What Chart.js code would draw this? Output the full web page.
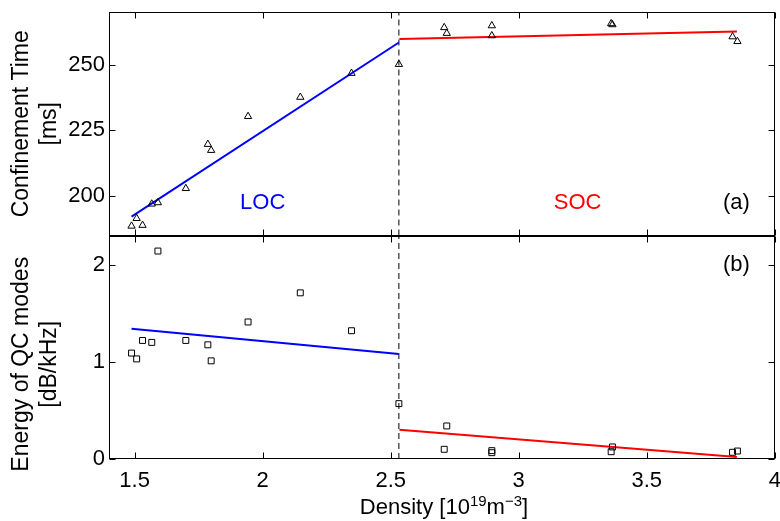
<!DOCTYPE html>
<html><head><meta charset="utf-8">
<script src="https://cdn.jsdelivr.net/npm/chart.js@4.4.0/dist/chart.umd.min.js"></script>
<style>html,body{margin:0;padding:0;background:#fff}</style>
</head><body>
<canvas id="c" width="780" height="521" style="width:780px;height:521px;display:block"></canvas>
<script>
// ---- data ----
const density = [1.488, 1.508, 1.531, 1.567, 1.591, 1.70, 1.786, 1.799, 1.943, 2.147, 2.347, 2.532, 2.709, 2.719, 2.895, 2.895, 3.361, 3.366, 3.835, 3.854];
const confinementTime = [188.6, 191.5, 188.9, 197.0, 197.5, 202.9, 219.7, 217.4, 230.3, 237.6, 246.7, 250.1, 264.1, 261.9, 264.8, 261.0, 265.6, 265.2, 260.6, 258.8];
const qcEnergy = [1.09, 1.03, 1.22, 1.20, 2.14, 1.22, 1.175, 1.01, 1.41, 1.71, 1.32, 0.57, 0.10, 0.34, 0.086, 0.065, 0.075, 0.124, 0.069, 0.082];
const locFitDensity = [1.488, 2.532];
const locFitTime = [192.2, 258.4];
const locFitEnergy = [1.34, 1.08];
const socFitDensity = [2.534, 3.852];
const socFitTime = [259.7, 262.6];
const socFitEnergy = [0.30, 0.02];
const transitionDensity = 2.532;
const xRange = [1.4, 4];
const timeRange = [185, 270];
const energyRange = [0, 2.3];
const xTicks = [1.5, 2, 2.5, 3, 3.5, 4];
const timeTicks = [200, 225, 250];
const energyTicks = [0, 1, 2];
const timeTitle = ['Confinement Time', '[ms]'];
const energyTitle = ['Energy of QC modes', '[dB/kHz]'];
const regionLabels = [
  {text: 'LOC', x: 2.0, y: 197.5, axis: 'yT', color: '#0000ff'},
  {text: 'SOC', x: 3.23, y: 197.5, axis: 'yT', color: '#ff0000'},
  {text: '(a)', x: 3.85, y: 197.5, axis: 'yT', color: '#000000'},
  {text: '(b)', x: 3.85, y: 2.0, axis: 'yE', color: '#000000'}
];

const FONT = 'Liberation Sans, Arial, Helvetica, sans-serif';
const FS = 22;
const TFS = 23;

const pts = (xs, ys) => xs.map((v, i) => ({x: v, y: ys[i]}));

const framePlugin = {
  id: 'frame',
  afterDraw(chart) {
    const {ctx, chartArea: ca, scales} = chart;
    const x = scales.x, yT = scales.yT, yE = scales.yE;
    const L = Math.round(ca.left) + 0.5, R = Math.round(ca.right) - 0.5;
    ctx.save();
    ctx.strokeStyle = '#000';
    ctx.lineWidth = 1;
    const tl = 6;
    [[yT, timeTicks], [yE, energyTicks]].forEach(([ys, tks]) => {
      const T = Math.round(ys.top) + 0.5, B = Math.round(ys.bottom) - 0.5;
      ctx.strokeRect(L, T, R - L, B - T);
      ctx.beginPath();
      xTicks.forEach(v => {
        const px = Math.round(x.getPixelForValue(v)) + 0.5;
        ctx.moveTo(px, T); ctx.lineTo(px, T + tl);
        ctx.moveTo(px, B); ctx.lineTo(px, B - tl);
      });
      tks.forEach(v => {
        const py = Math.round(ys.getPixelForValue(v)) + 0.5;
        ctx.moveTo(L, py); ctx.lineTo(L + tl, py);
        ctx.moveTo(R, py); ctx.lineTo(R - tl, py);
      });
      ctx.stroke();
    });
    // region labels
    ctx.font = FS + 'px ' + FONT;
    ctx.textAlign = 'center';
    ctx.textBaseline = 'middle';
    regionLabels.forEach(l => {
      ctx.fillStyle = l.color;
      ctx.fillText(l.text, x.getPixelForValue(l.x), scales[l.axis].getPixelForValue(l.y));
    });
    // rotated y-axis titles
    ctx.fillStyle = '#000';
    ctx.font = TFS + 'px ' + FONT;
    [[timeTitle, (yT.top + yT.bottom) / 2], [energyTitle, (yE.top + yE.bottom) / 2 + 17]].forEach(([lines, cy]) => {
      ctx.save();
      ctx.translate(22, cy);
      ctx.rotate(-Math.PI / 2);
      ctx.textAlign = 'center';
      ctx.textBaseline = 'middle';
      lines.forEach((t, i) => ctx.fillText(t, 0, i * 28));
      ctx.restore();
    });
    // x-axis title with superscripts
    const parts = [
      {t: 'Density [10', sup: false},
      {t: '19', sup: true},
      {t: 'm', sup: false},
      {t: '\u22123', sup: true},
      {t: ']', sup: false}
    ];
    const mainF = FS + 'px ' + FONT, supF = '15px ' + FONT;
    let total = 0;
    parts.forEach(p => { ctx.font = p.sup ? supF : mainF; p.w = ctx.measureText(p.t).width; total += p.w; });
    let cx = 444 - total / 2;
    const base = 514;
    ctx.textAlign = 'left';
    ctx.textBaseline = 'alphabetic';
    parts.forEach(p => {
      ctx.font = p.sup ? supF : mainF;
      ctx.fillText(p.t, cx, p.sup ? base - 8 : base);
      cx += p.w;
    });
    ctx.restore();
  }
};

const tickFont = {family: FONT, size: FS};
const fixY = s => { s.width = 109; s.paddingTop = 0; s.paddingBottom = 0; };

new Chart(document.getElementById('c'), {
  type: 'scatter',
  data: {
    datasets: [
      {label: 'tau', data: pts(density, confinementTime), yAxisID: 'yT', pointStyle: 'triangle', pointRadius: 4.2, pointBorderColor: '#000', pointBackgroundColor: 'rgba(0,0,0,0)', pointBorderWidth: 1, showLine: false},
      {label: 'tauLOC', data: pts(locFitDensity, locFitTime), yAxisID: 'yT', showLine: true, borderColor: '#0000ff', borderWidth: 2, pointRadius: 0},
      {label: 'tauSOC', data: pts(socFitDensity, socFitTime), yAxisID: 'yT', showLine: true, borderColor: '#ff0000', borderWidth: 2, pointRadius: 0},
      {label: 'tauSplit', data: [{x: transitionDensity, y: timeRange[0]}, {x: transitionDensity, y: timeRange[1]}], yAxisID: 'yT', showLine: true, borderColor: '#000', borderWidth: 1, borderDash: [6, 4], pointRadius: 0},
      {label: 'energy', data: pts(density, qcEnergy), yAxisID: 'yE', pointStyle: 'rect', pointRadius: 4.2, pointBorderColor: '#000', pointBackgroundColor: 'rgba(0,0,0,0)', pointBorderWidth: 1, showLine: false},
      {label: 'energyLOC', data: pts(locFitDensity, locFitEnergy), yAxisID: 'yE', showLine: true, borderColor: '#0000ff', borderWidth: 2, pointRadius: 0},
      {label: 'energySOC', data: pts(socFitDensity, socFitEnergy), yAxisID: 'yE', showLine: true, borderColor: '#ff0000', borderWidth: 2, pointRadius: 0},
      {label: 'energySplit', data: [{x: transitionDensity, y: energyRange[0]}, {x: transitionDensity, y: energyRange[1]}], yAxisID: 'yE', showLine: true, borderColor: '#000', borderWidth: 1, borderDash: [6, 4], pointRadius: 0}
    ]
  },
  options: {
    responsive: false,
    animation: false,
    devicePixelRatio: 1,
    layout: {padding: {top: 12, right: 4, left: 0, bottom: 0}},
    plugins: {legend: {display: false}, tooltip: {enabled: false}},
    scales: {
      x: {
        type: 'linear', position: 'bottom', min: xRange[0], max: xRange[1],
        afterBuildTicks: s => { s.ticks = xTicks.map(v => ({value: v})); },
        afterFit: s => { s.height = 62; s.paddingLeft = 0; s.paddingRight = 0; },
        ticks: {font: tickFont, color: '#000', padding: 9, maxRotation: 0, autoSkip: false, callback: v => String(v)},
        grid: {display: false, drawTicks: false},
        border: {display: false}
      },
      yE: {
        type: 'linear', position: 'left', stack: 'panels', stackWeight: 1, min: energyRange[0], max: energyRange[1],
        afterBuildTicks: s => { s.ticks = energyTicks.map(v => ({value: v})); },
        afterFit: fixY,
        ticks: {font: tickFont, color: '#000', padding: 4, autoSkip: false, callback: v => String(v)},
        grid: {display: false, drawTicks: false},
        border: {display: false}
      },
      yT: {
        type: 'linear', position: 'left', stack: 'panels', stackWeight: 1, min: timeRange[0], max: timeRange[1],
        afterBuildTicks: s => { s.ticks = timeTicks.map(v => ({value: v})); },
        afterFit: fixY,
        ticks: {font: tickFont, color: '#000', padding: 4, autoSkip: false, callback: v => String(v)},
        grid: {display: false, drawTicks: false},
        border: {display: false}
      }
    }
  },
  plugins: [framePlugin]
});
</script>
</body></html>
